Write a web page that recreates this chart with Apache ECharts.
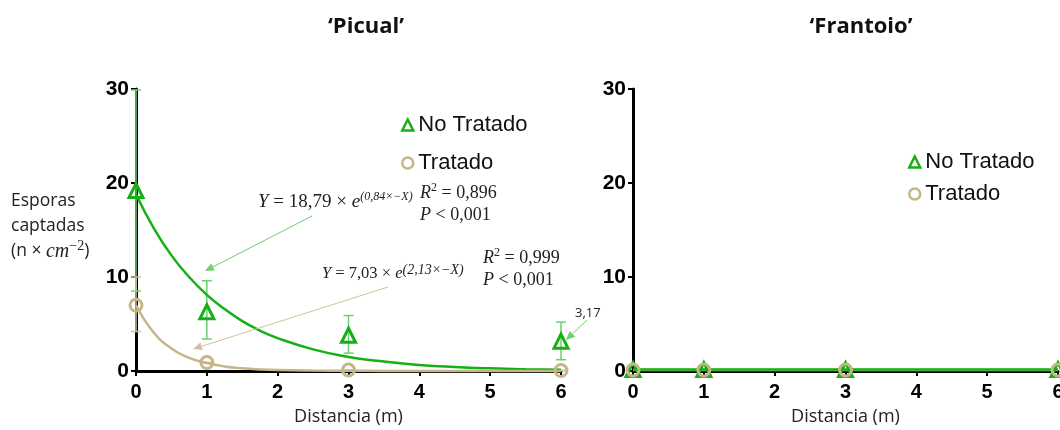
<!DOCTYPE html>
<html>
<head>
<meta charset="utf-8">
<script src="https://cdn.jsdelivr.net/npm/echarts@6/dist/echarts.min.js"></script>
<style>
  html, body { margin: 0; padding: 0; background: #fff; }
  #chart { width: 1060px; height: 430px; }
</style>
</head>
<body>
<div id="chart"></div>
<script>
// distancias medidas (m)
var distancias = [0, 1, 3, 6];
var xTicks = [0, 1, 2, 3, 4, 5, 6];
var yTicks = [0, 10, 20, 30];

// 'Picual'
var picualNoTratado = [19.2, 6.3, 3.8, 3.17];
var picualNoTratadoMin = [8.5, 3.4, 1.9, 1.2];
var picualNoTratadoMax = [29.9, 9.6, 5.9, 5.2];
var picualTratado = [7.0, 0.9, 0.1, 0.05];
var picualTratadoMin = [4.2, 0.9, 0.1, 0.05];
var picualTratadoMax = [10.0, 0.9, 0.1, 0.05];

// curvas de ajuste
var ajusteX = [0, 0.25, 0.5, 0.75, 1, 1.25, 1.5, 1.75, 2, 2.5, 3, 3.5, 4, 4.5, 5, 5.5, 6];
var ajusteNoTratado = [18.8, 15.2, 12.3, 10.0, 8.1, 6.6, 5.3, 4.3, 3.5, 2.3, 1.5, 1.0, 0.65, 0.43, 0.28, 0.18, 0.12];
var ajusteTratado = [7.0, 4.1, 2.4, 1.4, 0.85, 0.49, 0.29, 0.17, 0.1, 0.04, 0.02, 0.01, 0, 0, 0, 0, 0];

// 'Frantoio'
var frantoioNoTratado = [0.15, 0.15, 0.15, 0.15];
var frantoioTratado = [0.1, 0.1, 0.1, 0.1];

var verde = '#14b014';
var verdeClaro = '#6fd06f';
var tostado = '#c4b689';
var tostadoClaro = '#cdc3a0';

function pares(xs, ys) {
    return xs.map(function (x, i) { return [x, ys[i]]; });
}
function barras(xs, lo, hi) {
    return xs.map(function (x, i) { return [x, lo[i], hi[i]]; });
}
function pintaError(params, api) {
    var x = api.value(0);
    var p1 = api.coord([x, api.value(1)]);
    var p2 = api.coord([x, api.value(2)]);
    var w = 5;
    var st = { stroke: api.visual('color'), lineWidth: 1.5 };
    return {
        type: 'group',
        children: [
            { type: 'line', shape: { x1: p1[0], y1: p1[1], x2: p2[0], y2: p2[1] }, style: st },
            { type: 'line', shape: { x1: p1[0] - w, y1: p1[1], x2: p1[0] + w, y2: p1[1] }, style: st },
            { type: 'line', shape: { x1: p2[0] - w, y1: p2[1], x2: p2[0] + w, y2: p2[1] }, style: st }
        ]
    };
}

function flecha(x1, y1, x2, y2, color) {
    var ang = Math.atan2(y2 - y1, x2 - x1);
    var L = 9, W = 4;
    var bx = x2 - L * Math.cos(ang), by = y2 - L * Math.sin(ang);
    var px = -Math.sin(ang) * W, py = Math.cos(ang) * W;
    return [
        { type: 'line', z: 50, shape: { x1: x1, y1: y1, x2: bx, y2: by }, style: { stroke: color, lineWidth: 1 } },
        { type: 'polygon', z: 50, shape: { points: [[x2, y2], [bx + px, by + py], [bx - px, by - py]] }, style: { fill: color } }
    ];
}

var ejeX = function (idx) {
    return {
        type: 'value', gridIndex: idx, min: 0, max: 6, interval: 1,
        name: 'Distancia (m)', nameLocation: 'middle', nameGap: 37,
        nameTextStyle: { fontFamily: 'Open Sans', fontSize: 18, color: '#222' },
        axisLine: { show: true, onZero: false, lineStyle: { color: '#000', width: 3 } },
        axisTick: { show: true, inside: false, length: 5, lineStyle: { color: '#000', width: 2 } },
        axisLabel: { color: '#000', fontWeight: 'bold', fontSize: 20, fontFamily: 'Liberation Sans', margin: 11,
            formatter: function (v) { return xTicks.indexOf(v) >= 0 ? String(v) : ''; } },
        splitLine: { show: false }
    };
};
var ejeY = function (idx) {
    return {
        type: 'value', gridIndex: idx, min: yTicks[0], max: yTicks[yTicks.length - 1], interval: 10,
        axisLine: { show: true, lineStyle: { color: '#000', width: 3 } },
        axisTick: { show: true, inside: false, length: 5, lineStyle: { color: '#000', width: 2 } },
        axisLabel: { color: '#000', fontWeight: 'bold', fontSize: 21, fontFamily: 'Liberation Sans', margin: 7 },
        splitLine: { show: false }
    };
};

var marcador = function (name, idx, datos, tri) {
    return {
        name: name, type: 'scatter', xAxisIndex: idx, yAxisIndex: idx,
        data: pares(distancias, datos),
        symbol: tri ? 'triangle' : 'circle',
        symbolSize: tri ? 14 : 12,
        clip: false, z: 10,
        itemStyle: { color: 'rgba(255,255,255,0)', borderColor: tri ? verde : tostado, borderWidth: 3, opacity: 1 }
    };
};
var curva = function (idx, xs, ys, color) {
    return {
        type: 'line', xAxisIndex: idx, yAxisIndex: idx, data: pares(xs, ys),
        smooth: true, showSymbol: false, symbol: 'none', clip: false, z: 5,
        lineStyle: { color: color, width: 2.5 }
    };
};
var error = function (idx, lo, hi, color) {
    return {
        type: 'custom', xAxisIndex: idx, yAxisIndex: idx, renderItem: pintaError,
        data: barras(distancias, lo, hi), itemStyle: { color: color }, z: 4, clip: false
    };
};

var leyenda = function (left, top, gap) {
    return {
        orient: 'vertical', left: left, top: top, itemGap: gap, itemWidth: 11, itemHeight: 11,
        textStyle: { fontFamily: 'Liberation Sans', fontSize: 22, color: '#111', padding: [0, 0, 0, 0] },
        data: [
            { name: 'No Tratado', icon: 'triangle', itemStyle: { color: '#fff', borderColor: verde, borderWidth: 2.5 } },
            { name: 'Tratado', icon: 'circle', itemStyle: { color: '#fff', borderColor: tostado, borderWidth: 2.5 } }
        ]
    };
};

var mathF = 'Liberation Serif';
var ecuacion = function (x, y, coef, expo, fs, fsSup) {
    return {
        type: 'text', x: x, y: y, z: 50,
        style: {
            text: '{i|Y}{n| = ' + coef + ' × }{i|e}{s|(' + expo + '×−X)}',
            align: 'left', verticalAlign: 'middle',
            rich: {
                i: { fontFamily: mathF, fontStyle: 'italic', fontSize: fs, fill: '#222', verticalAlign: 'middle', lineHeight: 22 },
                n: { fontFamily: mathF, fontSize: fs, fill: '#222', verticalAlign: 'middle', lineHeight: 22 },
                s: { fontFamily: mathF, fontStyle: 'italic', fontSize: fsSup, fill: '#222', verticalAlign: 'top', lineHeight: fsSup }
            }
        }
    };
};
var estad = function (x, y, r2) {
    return {
        type: 'text', x: x, y: y, z: 50,
        style: {
            text: '{i|R}{s|2}{n| = ' + r2 + '}\n{i|P}{n| < 0,001}',
            align: 'left', verticalAlign: 'top',
            rich: {
                i: { fontFamily: mathF, fontStyle: 'italic', fontSize: 18, fill: '#222', verticalAlign: 'middle', lineHeight: 22 },
                n: { fontFamily: mathF, fontSize: 18, fill: '#222', verticalAlign: 'middle', lineHeight: 22 },
                s: { fontFamily: mathF, fontSize: 12, fill: '#222', verticalAlign: 'top', lineHeight: 12 }
            }
        }
    };
};

var graficos = [
    ecuacion(258, 202, '18,79', '0,84', 19, 12),
    estad(420, 182, '0,896'),
    ecuacion(322, 274, '7,03', '2,13', 16.5, 14),
    estad(483, 247, '0,999'),
    { type: 'text', x: 575, y: 313, z: 50, style: { text: '3,17', fontFamily: 'Open Sans', fontSize: 13, fill: '#222', verticalAlign: 'middle' } },
    {
        type: 'text', x: 11, y: 189, z: 50,
        style: {
            text: '{a|Esporas}\n{a|captadas}\n{a|(n × }{m|cm}{s|−2}{a|)}',
            verticalAlign: 'top',
            rich: {
                a: { fontFamily: 'Open Sans', fontSize: 17.5, fill: '#222', lineHeight: 25, verticalAlign: 'middle' },
                m: { fontFamily: mathF, fontStyle: 'italic', fontSize: 20, fill: '#222', lineHeight: 25, verticalAlign: 'middle' },
                s: { fontFamily: mathF, fontSize: 14, fill: '#222', lineHeight: 14, verticalAlign: 'top' }
            }
        }
    }
].concat(flecha(312, 216, 205, 271, verdeClaro))
 .concat(flecha(388, 287, 193, 349, tostadoClaro))
 .concat(flecha(587, 320, 566, 340, verdeClaro));

var myChart = echarts.init(document.getElementById('chart'), null, { renderer: 'canvas' });
myChart.setOption({
    animation: false,
    backgroundColor: '#fff',
    title: [
        { text: '‘Picual’', left: 361, top: 11, textAlign: 'center',
          textStyle: { fontFamily: 'Open Sans', fontWeight: 'bold', fontSize: 22, color: '#111' } },
        { text: '‘Frantoio’', left: 856, top: 11, textAlign: 'center',
          textStyle: { fontFamily: 'Open Sans', fontWeight: 'bold', fontSize: 22, color: '#111' } }
    ],
    legend: [leyenda(396, 109, 16), leyenda(903, 146, 10)],
    grid: [
        { left: 136, top: 89, width: 425, height: 282, outerBoundsMode: 'none', containLabel: false },
        { left: 633, top: 89, width: 425, height: 282, outerBoundsMode: 'none', containLabel: false }
    ],
    xAxis: [ejeX(0), ejeX(1)],
    yAxis: [ejeY(0), ejeY(1)],
    series: [
        error(0, picualNoTratadoMin, picualNoTratadoMax, verdeClaro),
        error(0, picualTratadoMin, picualTratadoMax, tostadoClaro),
        curva(0, ajusteX, ajusteNoTratado, verde),
        curva(0, ajusteX, ajusteTratado, tostado),
        marcador('No Tratado', 0, picualNoTratado, true),
        marcador('Tratado', 0, picualTratado, false),
        curva(1, distancias, frantoioTratado, tostado),
        curva(1, distancias, frantoioNoTratado, verde),
        marcador('No Tratado', 1, frantoioNoTratado, true),
        marcador('Tratado', 1, frantoioTratado, false)
    ],
    graphic: graficos
});
</script>
</body>
</html>
